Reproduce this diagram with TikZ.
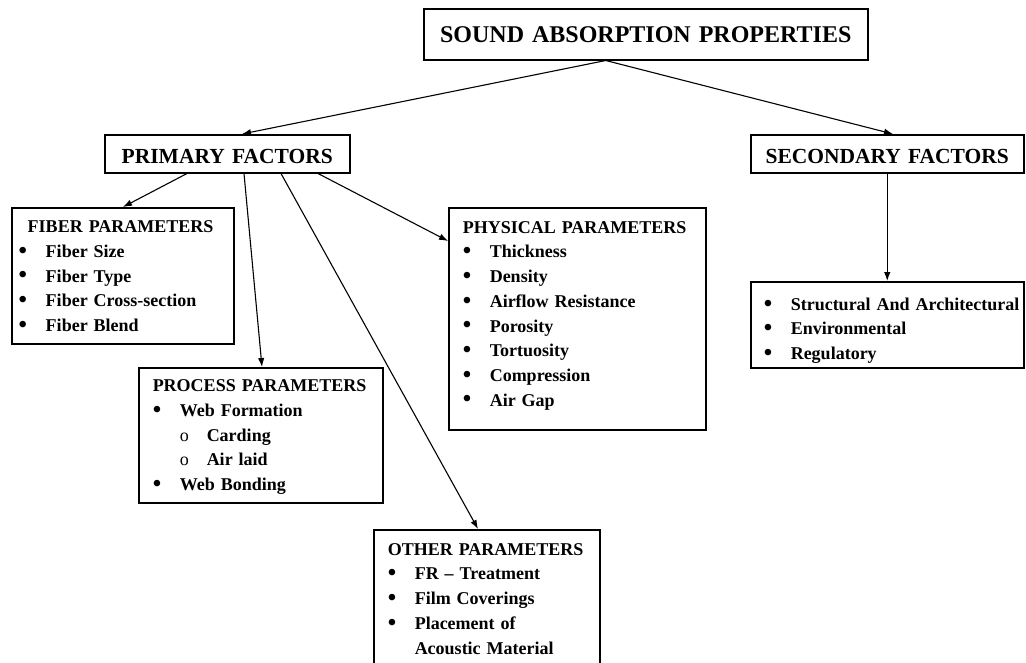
\documentclass[tikz,border=0pt]{standalone}
\usepackage{fontspec}
\setmainfont{Liberation Serif}
\usepackage{tikz}
\usetikzlibrary{arrows.meta}
\newcommand{\bul}{\makebox[27pt][l]{\raisebox{-0.8pt}{\fontsize{24}{24}\selectfont\textbullet}}}
\newcommand{\subbul}{\hspace*{27pt}\makebox[27pt][l]{\textmd{o}}}

\begin{document}
\begin{tikzpicture}[
    x=1pt,y=-1pt,
    box/.style={draw, line width=1.5pt, anchor=north west, inner ysep=0pt, inner xsep=14pt},
    head/.style={box, align=center, font=\bfseries\fontsize{21.5}{26}\selectfont},
    list/.style={box, align=left, font=\bfseries\fontsize{18}{24.7}\selectfont},
    arr/.style={-{Latex[length=9pt,width=6.5pt]}, line width=1.1pt}
    ]
    \clip (0,0) rectangle (1026,662);
    \node[head, text width=416pt, text height=33.4pt, text depth=17.6pt,
      font=\bfseries\fontsize{24}{28}\selectfont] (title) at (423,8) {SOUND ABSORPTION PROPERTIES};
    \node[head, text width=217pt, text height=29pt, text depth=9pt] (prim) at (104,134) {PRIMARY FACTORS};
    \node[head, text width=245pt, text height=29pt, text depth=9pt] (sec) at (750,134) {SECONDARY FACTORS};
    \node[list, inner xsep=7pt, text width=208pt, text height=25pt, text depth=111pt] (fiber) at (11,207)
      {\hspace*{9pt}FIBER PARAMETERS\\ \bul Fiber Size\\ \bul Fiber Type\\ \bul Fiber Cross-section\\ \bul Fiber Blend};
    \node[list, text width=216pt, text height=24pt, text depth=111pt] (proc) at (138,367)
      {PROCESS PARAMETERS\\ \bul Web Formation\\ \subbul Carding\\ \subbul Air laid\\ \bul Web Bonding};
    \node[list, text width=229pt, text height=25.5pt, text depth=196.5pt] (phys) at (448,207)
      {PHYSICAL PARAMETERS\\ \bul Thickness\\ \bul Density\\ \bul Airflow Resistance\\ \bul Porosity\\
       \bul Tortuosity\\ \bul Compression\\ \bul Air Gap};
    \node[list, text width=198pt, text height=25.5pt, text depth=115.5pt] (other) at (373,529)
      {OTHER PARAMETERS\\ \bul FR -- Treatment\\ \bul Film Coverings\\ \bul Placement of\\ \hspace*{27pt}Acoustic Material};
    \node[list, inner xsep=2pt, text width=269pt, text height=28.5pt, text depth=57.5pt] (seclist) at (750,281)
      {\hspace*{11pt}\bul Structural And Architectural\\ \hspace*{11pt}\bul Environmental\\ \hspace*{11pt}\bul Regulatory};
    \draw[arr] ([xshift=-40pt]title.south) -- ([xshift=138pt]prim.north west);
    \draw[arr] ([xshift=-40pt]title.south) -- ([xshift=143pt]sec.north west);
    \draw[arr] ([xshift=83pt]prim.south west) -- ([xshift=112pt]fiber.north west);
    \draw[arr] ([xshift=140pt]prim.south west) -- ([xshift=124pt]proc.north west);
    \draw[arr] ([xshift=177pt]prim.south west) -- ([xshift=105pt]other.north west);
    \draw[arr] ([xshift=214pt]prim.south west) -- ([yshift=-34pt]phys.north west);
    \draw[arr] (sec.south) -- (seclist.north);
  \end{tikzpicture}
\end{document}
